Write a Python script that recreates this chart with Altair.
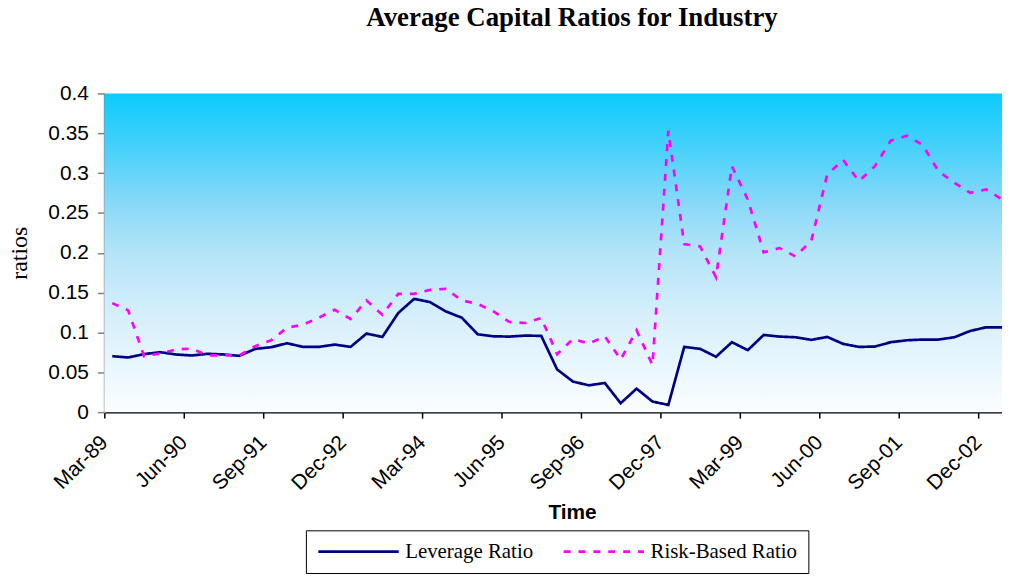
import json
import altair as alt
import pandas as pd

# quarter index 0 = Mar-89 ... 56 = Mar-03
tick_labels = ["Mar-89", "Jun-90", "Sep-91", "Dec-92", "Mar-94", "Jun-95",
               "Sep-96", "Dec-97", "Mar-99", "Jun-00", "Sep-01", "Dec-02"]
series_names = ["Leverage Ratio", "Risk-Based Ratio"]

leverage = [0.0703, 0.0686, 0.0728, 0.0753, 0.0724, 0.0711, 0.0732, 0.0724, 0.0707, 0.0794,
            0.0815, 0.0865, 0.0819, 0.0819, 0.0848, 0.0819, 0.0986, 0.0944, 0.1244, 0.1422,
            0.1381, 0.1264, 0.1185, 0.0977, 0.0952, 0.0948, 0.0961, 0.0957, 0.0536, 0.0383,
            0.0337, 0.0366, 0.0112, 0.0295, 0.0133, 0.0091, 0.0819, 0.0794, 0.0695, 0.0878,
            0.0778, 0.0969, 0.0948, 0.0940, 0.0907, 0.0944, 0.0857, 0.0819, 0.0823, 0.0878,
            0.0902, 0.0911, 0.0911, 0.0940, 0.1019, 0.1065, 0.1065]
risk_based = [0.1368, 0.1277, 0.0703, 0.0736, 0.0786, 0.0798, 0.0711, 0.0715, 0.0711, 0.0828,
              0.0902, 0.1060, 0.1098, 0.1185, 0.1285, 0.1169, 0.1402, 0.1223, 0.1485, 0.1485,
              0.1535, 0.1547, 0.1402, 0.1360, 0.1264, 0.1131, 0.1119, 0.1181, 0.0728, 0.0919,
              0.0861, 0.0952, 0.0661, 0.1027, 0.0591, 0.3531, 0.2109, 0.2079, 0.1693, 0.3086,
              0.2670, 0.2005, 0.2059, 0.1955, 0.2150, 0.2982, 0.3165, 0.2899, 0.3086, 0.3406,
              0.3468, 0.3356, 0.3024, 0.2878, 0.2753, 0.2795, 0.2670]
y_ticks = [0, 0.05, 0.1, 0.15, 0.2, 0.25, 0.3, 0.35, 0.4]

n = len(leverage)
quarters = list(range(n))
df = pd.DataFrame({
    "q": quarters + quarters,
    "value": leverage + risk_based,
    "series": [series_names[0]] * n + [series_names[1]] * n,
})

W, H = 904, 321

gradient = alt.Gradient(
    gradient="linear", x1=0, x2=0, y1=0, y2=1,
    stops=[
        alt.GradientStop(color="#0bcbfc", offset=0),
        alt.GradientStop(color="#3fd0fb", offset=0.15),
        alt.GradientStop(color="#8ad9f8", offset=0.35),
        alt.GradientStop(color="#b4e4f8", offset=0.5),
        alt.GradientStop(color="#d6effb", offset=0.7),
        alt.GradientStop(color="#fbfdff", offset=1),
    ],
)

bg = alt.Chart(pd.DataFrame({"a": [0]})).mark_rect(fill=gradient).encode(
    x=alt.value(0), x2=alt.value(W), y=alt.value(0), y2=alt.value(H)
)

tick_values = [k - 0.5 for k in range(0, n - 1, 5)]
label_expr = "%s[round((datum.value + 0.5) / 5)]" % json.dumps(tick_labels)

legend = alt.Legend(
    title=None, orient="none", legendX=203, legendY=440, direction="horizontal",
    strokeColor="black", fillColor="white", padding=11,
    symbolType="stroke", symbolSize=6561, symbolStrokeWidth=2.7, clipHeight=21,
    labelFont="Liberation Serif", labelFontSize=21, labelColor="black",
    labelOffset=5, columnPadding=29,
)

lines = alt.Chart(df).mark_line(strokeWidth=2.7, clip=True).encode(
    x=alt.X("q:Q",
            scale=alt.Scale(domain=[-0.5, 56.0], nice=False, zero=False),
            axis=alt.Axis(values=tick_values, labelExpr=label_expr, grid=False,
                          domainColor="black", domainWidth=1.5,
                          tickColor="black", tickWidth=1.5, tickSize=6,
                          labelFont="Liberation Sans", labelFontSize=21, labelColor="black",
                          labelAngle=315, labelAlign="right", labelBaseline="middle",
                          labelPadding=21, labelOverlap=False, labelBound=False,
                          labelFlush=False,
                          title="Time", titleFont="Liberation Sans", titleFontSize=21,
                          titleFontWeight="bold", titleColor="black",
                          titleX=471, titleY=107, titleBaseline="alphabetic",
                          titleAnchor="start", titleAlign="center"),
            ),
    y=alt.Y("value:Q",
            scale=alt.Scale(domain=[0, 0.4], nice=False),
            axis=alt.Axis(values=y_ticks, format=".2~f", grid=False,
                          domainColor="#808080", domainWidth=2,
                          tickColor="#808080", tickWidth=1.5, tickSize=7,
                          labelFont="Liberation Sans", labelFontSize=21, labelColor="black",
                          labelPadding=9,
                          title="ratios", titleFont="Liberation Serif", titleFontSize=24,
                          titleFontWeight="normal", titleColor="black",
                          titleX=-78, titleY=H / 2, titleAngle=270,
                          titleAlign="center", titleBaseline="alphabetic")),
    color=alt.Color("series:N",
                    scale=alt.Scale(domain=series_names, range=["#000080", "#ff00ff"]),
                    legend=legend),
    strokeDash=alt.StrokeDash("series:N",
                              scale=alt.Scale(domain=series_names, range=[[1, 0], [7, 8]]),
                              legend=legend),
)

chart = alt.layer(bg, lines).properties(
    width=W, height=H,
    autosize="none",
    padding={"left": 97, "top": 84, "right": 0, "bottom": 164},
    title=alt.TitleParams(text="Average Capital Ratios for Industry",
                          font="Liberation Serif", fontSize=27, fontWeight="bold",
                          color="black", anchor="middle", dx=19, offset=51),
).configure_view(strokeWidth=0)

chart.save("out.html", embed_options={"renderer": "svg", "actions": False})
